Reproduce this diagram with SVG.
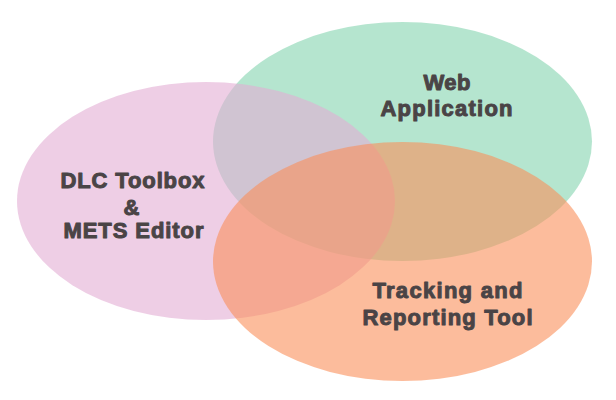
<svg xmlns="http://www.w3.org/2000/svg" width="616" height="400" viewBox="0 0 616 400">
<style>
.c{opacity:0.6}
.t{font-family:"Liberation Sans",Arial,sans-serif;font-weight:bold;font-size:22px;fill:#4a4446;stroke:#4a4446;stroke-width:1;stroke-linejoin:round;text-anchor:middle}
</style>
<rect width="616" height="400" fill="#ffffff"/>
<g id="web-application">
<ellipse class="c" cx="402.5" cy="141.5" rx="189.5" ry="119.5" fill="#84d4af"/>
</g>
<g id="dlc-toolbox">
<ellipse class="c" cx="206" cy="201" rx="189" ry="119" fill="#e3aed3"/>
</g>
<g id="tracking-reporting">
<ellipse class="c" cx="402.5" cy="261.5" rx="189.5" ry="119.5" fill="#fa8f5a"/>
</g>
<g id="labels">
<text class="t" x="132.5" y="188" textLength="144" lengthAdjust="spacing">DLC Toolbox</text>
<text class="t" x="131.5" y="215">&amp;</text>
<text class="t" x="133.5" y="238" textLength="140" lengthAdjust="spacing">METS Editor</text>
<text class="t" x="447" y="90" textLength="47" lengthAdjust="spacing">Web</text>
<text class="t" x="446.5" y="116" textLength="132" lengthAdjust="spacing">Application</text>
<text class="t" x="447.5" y="298" textLength="150" lengthAdjust="spacing">Tracking and</text>
<text class="t" x="447.5" y="325" textLength="170" lengthAdjust="spacing">Reporting Tool</text>
</g>
</svg>
